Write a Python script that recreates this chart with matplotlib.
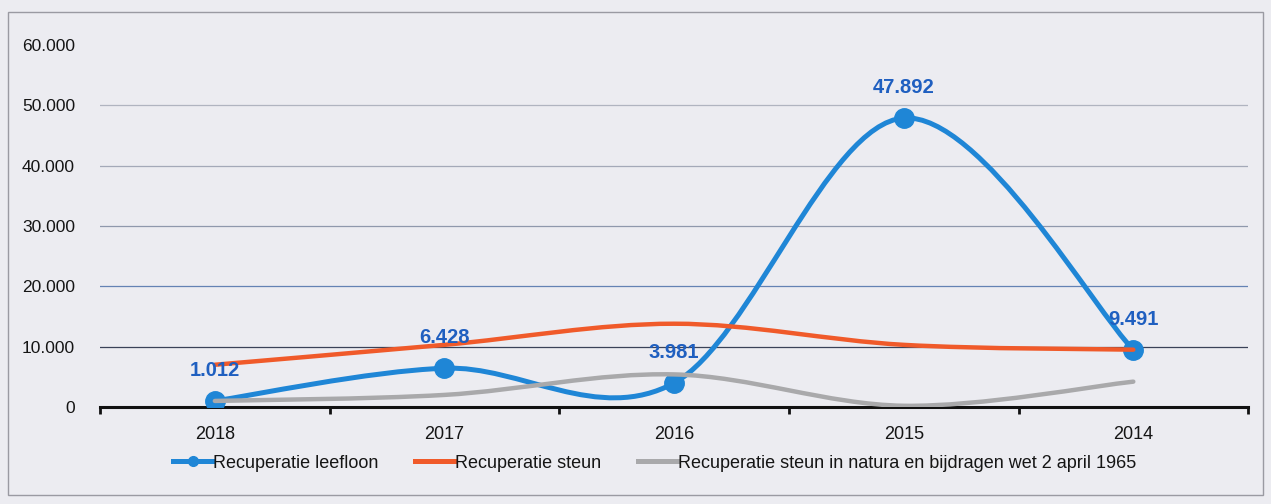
import matplotlib.pyplot as plt
import matplotlib as mpl
import numpy as np
from matplotlib.path import Path
from matplotlib.patches import PathPatch, Rectangle
from matplotlib.lines import Line2D
from matplotlib.ticker import FuncFormatter, FixedLocator

# ===== data =====
years = ['2018', '2017', '2016', '2015', '2014']
leefloon = [1012, 6428, 3981, 47892, 9491]
steun = [7000, 10300, 13800, 10300, 9500]
natura = [1000, 2000, 5400, 200, 4200]
series_names = ['Recuperatie leefloon', 'Recuperatie steun',
                'Recuperatie steun in natura en bijdragen wet 2 april 1965']

BLUE = '#1f86d6'
ORANGE = '#f05a2a'
GRAY = '#a9a9ab'
LABEL_BLUE = '#1f5fc0'
FONT = ['Liberation Sans Narrow', 'Liberation Sans', 'DejaVu Sans']

mpl.rcParams.update({
    'font.family': FONT,
    'font.size': 12,
    'figure.facecolor': '#ececf1',
})


def smooth_path(xs, ys):
    # Excel-style smoothing: Catmull-Rom segments as cubic Beziers
    pts = np.column_stack([xs, ys]).astype(float)
    n = len(pts)
    verts = [pts[0]]
    codes = [Path.MOVETO]
    for i in range(n - 1):
        p0 = pts[i - 1] if i > 0 else pts[i]
        p1, p2 = pts[i], pts[i + 1]
        p3 = pts[i + 2] if i + 2 < n else pts[i + 1]
        verts += [p1 + (p2 - p0) / 6, p2 - (p3 - p1) / 6, p2]
        codes += [Path.CURVE4] * 3
    return Path(verts, codes)


fig = plt.figure(figsize=(12.71, 5.04), dpi=100)
ax = fig.add_axes([0.0787, 0.1925, 0.9033, 0.7182])
ax.set_facecolor('none')

# outer chart border
fig.patches.append(Rectangle((8 / 1271, 9 / 504), 1255 / 1271, 483 / 504,
                             transform=fig.transFigure, fill=False,
                             edgecolor='#9a9aa2', linewidth=1.0))

x = np.arange(len(years))

# gridlines (scan shows the lower ones darker)
grid_colors = {10000: '#3a4258', 20000: '#6482b4', 30000: '#8f98ac',
               40000: '#a4a9b8', 50000: '#b0b4c0'}
for g, c in grid_colors.items():
    ax.axhline(g, color=c, linewidth=0.9, zorder=1)

series = [(leefloon, BLUE, 3.6), (steun, ORANGE, 3.2), (natura, GRAY, 3.2)]
for k, (vals, col, lw) in enumerate(series):
    patch = PathPatch(smooth_path(x, vals), fill=False, edgecolor=col,
                      linewidth=lw, capstyle='round', zorder=3 + k)
    ax.add_patch(patch)
    if k == 0:
        ax.plot(x, vals, 'o', color=BLUE, markersize=14, zorder=3)

# data labels
for i, v in enumerate(leefloon):
    ax.annotate(f'{v:,}'.replace(',', '.'), xy=(i, v), xytext=(0, 22),
                textcoords='offset points', ha='center', va='center',
                fontsize=14.5, fontweight='bold', color=LABEL_BLUE, zorder=7)

ax.set_xlim(-0.5, len(years) - 0.5)
ax.set_ylim(0, 60000)
ax.yaxis.set_major_locator(FixedLocator(range(0, 60001, 10000)))
ax.yaxis.set_major_formatter(FuncFormatter(lambda v, p: f'{int(v):,}'.replace(',', '.')))
ax.tick_params(axis='y', length=0, pad=18, labelsize=12.5, labelcolor='#151515')

ax.set_xticks(x)
ax.set_xticklabels(years)
ax.xaxis.set_minor_locator(FixedLocator(np.arange(-0.5, len(years), 1.0)))
ax.tick_params(axis='x', which='major', length=0, pad=14, labelsize=13,
               labelcolor='#151515')
ax.tick_params(axis='x', which='minor', length=5, width=2, color='#111111',
               direction='out')

for s in ['top', 'right', 'left']:
    ax.spines[s].set_visible(False)
ax.spines['bottom'].set_linewidth(2.2)
ax.spines['bottom'].set_color('#111111')
ax.spines['bottom'].set_zorder(2)

handles = [
    Line2D([], [], color=BLUE, linewidth=3.6, marker='o', markersize=7),
    Line2D([], [], color=ORANGE, linewidth=3.6),
    Line2D([], [], color=GRAY, linewidth=3.6),
]
fig.legend(handles, series_names, loc='center', bbox_to_anchor=(0.515, 0.081),
           ncol=3, frameon=False, fontsize=13, handlelength=2.2,
           handletextpad=0.05, columnspacing=2.0, labelcolor='#151515')

fig.savefig('out.png', dpi=100, facecolor=fig.get_facecolor())
